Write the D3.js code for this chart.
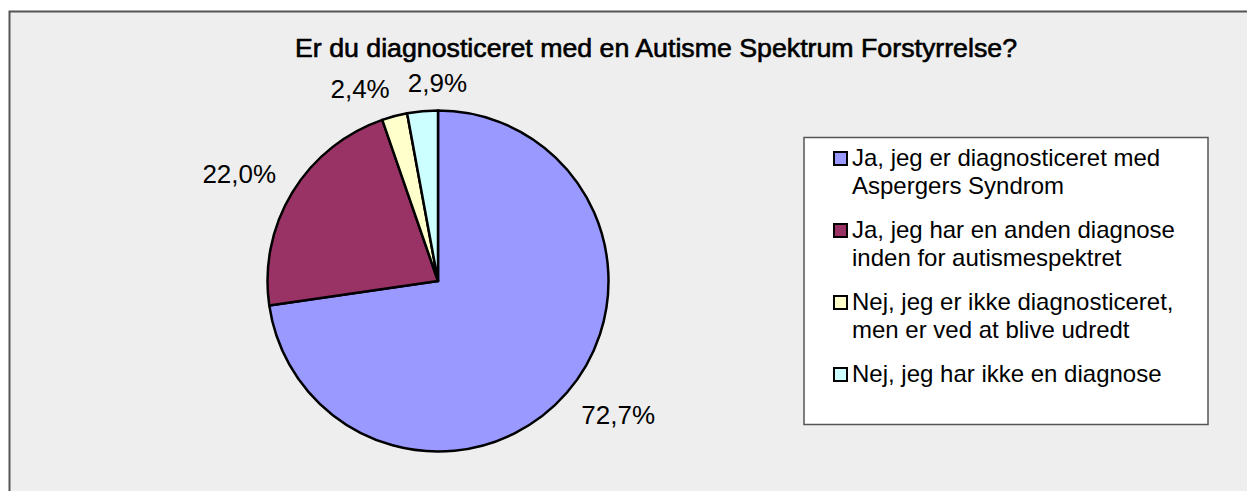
<!DOCTYPE html>
<html>
<head>
<meta charset="utf-8">
<script src="https://cdn.jsdelivr.net/npm/d3@7"></script>
<style>
  body { margin: 0; background: #fff; }
  text { font-family: "Liberation Sans", Arial, sans-serif; fill: #000; }
</style>
</head>
<body>
<div id="chart"></div>
<script>
// Size of the page
let width = 1247;
let height = 491;

// Chart data
let categories = [
    "Ja, jeg er diagnosticeret med|Aspergers Syndrom",
    "Ja, jeg har en anden diagnose|inden for autismespektret",
    "Nej, jeg er ikke diagnosticeret,|men er ved at blive udredt",
    "Nej, jeg har ikke en diagnose"
];
let values = [72.7, 22.0, 2.4, 2.9];
let labels = ["72,7%", "22,0%", "2,4%", "2,9%"];
let colors = ["#9999FF", "#993366", "#FFFFCC", "#CCFFFF"];
let title = "Er du diagnosticeret med en Autisme Spektrum Forstyrrelse?";

let svg = d3.select('#chart')
.append('svg')
.attr('width', width)
.attr('height', height);

// Chart area frame (runs off the right and bottom edge)
svg.append('rect')
.attr('x', 9.5)
.attr('y', 11.5)
.attr('width', width + 20)
.attr('height', height + 20)
.attr('fill', '#eeeeee')
.attr('stroke', '#555')
.attr('stroke-width', 2);

// Title, squeezed and a little heavier like the original
svg.append('text')
.attr('x', 656)
.attr('y', 57)
.attr('text-anchor', 'middle')
.attr('font-size', 25)
.attr('stroke', '#000')
.attr('stroke-width', 0.6)
.attr('textLength', 722)
.attr('lengthAdjust', 'spacingAndGlyphs')
.text(title);

// Pie
let cx = 438, cy = 281, r = 170.5;

let pie = d3.pie().sort(null).value(function(d){ return d; });
let arcs = pie(values);

let arc = d3.arc().innerRadius(0).outerRadius(r);

let g = svg.append('g').attr('transform', 'translate(' + cx + ',' + cy + ')');

g.selectAll('path')
.data(arcs)
.enter()
.append('path')
.attr('d', arc)
.attr('fill', function(d, i){ return colors[i]; })
.attr('stroke', '#000')
.attr('stroke-width', 2.5)
.attr('stroke-linejoin', 'round');

// Data labels: placed just outside the rim, box pushed outwards
let labelSize = 26;
let lbl = g.selectAll('.lbl')
.data(arcs)
.enter()
.append('text')
.attr('class', 'lbl')
.attr('font-size', labelSize)
.attr('text-anchor', 'middle')
.text(function(d, i){ return labels[i]; });

let boxes = [];
lbl.each(function(d){
    let w = this.getComputedTextLength();
    let h = labelSize * 0.72;
    let a = (d.startAngle + d.endAngle) / 2;
    let sx = Math.sin(a), sy = -Math.cos(a);
    let x = (r + 19) * sx + (sx < 0 ? -w / 2 : w / 2);
    let y = (r + 19) * sy + (sy < 0 ? -h / 2 : h / 2);
    boxes.push({x: x, y: y, w: w, h: h});
});
// keep small neighbouring labels apart
for (let i = 1; i < boxes.length; i++) {
    let p = boxes[i - 1], b = boxes[i];
    let overlapY = Math.abs(p.y - b.y) < (p.h + b.h) / 2;
    if (overlapY && b.x - b.w / 2 < p.x + p.w / 2 + 18 && b.x > p.x - p.w) {
        b.x = p.x + p.w / 2 + 18 + b.w / 2;
    }
}
lbl.attr('x', function(d, i){ return boxes[i].x; })
.attr('y', function(d, i){ return boxes[i].y + boxes[i].h / 2; });

// Legend
let legend = svg.append('g');
legend.append('rect')
.attr('x', 804)
.attr('y', 137.5)
.attr('width', 404)
.attr('height', 287)
.attr('fill', '#fff')
.attr('stroke', '#555')
.attr('stroke-width', 1.5);

let rowY = d3.scaleLinear().domain([0, 3]).range([166, 382]);

let items = legend.selectAll('.item')
.data(categories)
.enter()
.append('g')
.attr('class', 'item')
.attr('transform', function(d, i){ return 'translate(0,' + rowY(i) + ')'; });

items.append('rect')
.attr('x', 834)
.attr('y', -14)
.attr('width', 13)
.attr('height', 13)
.attr('fill', function(d, i){ return colors[i]; })
.attr('stroke', '#000')
.attr('stroke-width', 2);

items.append('text')
.attr('x', 852)
.attr('font-size', 24)
.selectAll('tspan')
.data(function(d){ return d.split('|'); })
.enter()
.append('tspan')
.attr('x', 852)
.attr('y', function(d, i){ return i * 28; })
.text(function(d){ return d; });
</script>
</body>
</html>
